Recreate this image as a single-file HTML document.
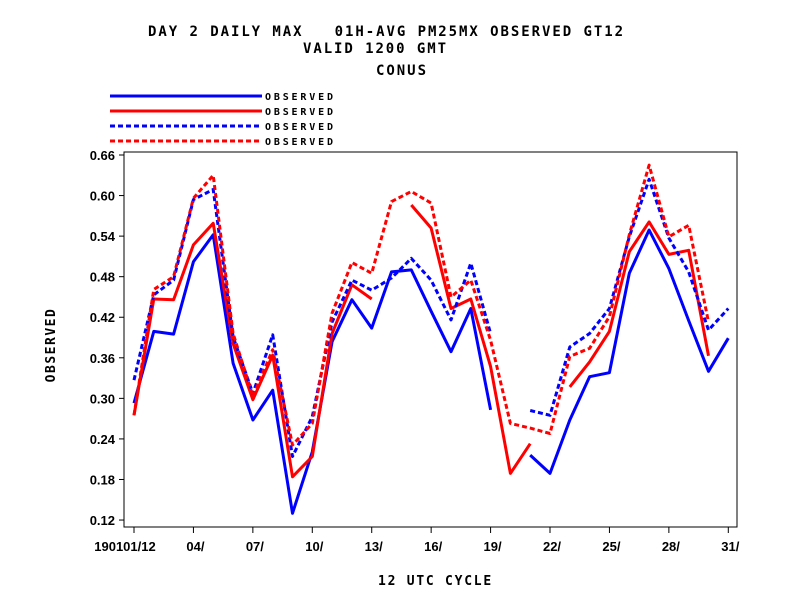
<!DOCTYPE html>
<html><head><meta charset="utf-8"><style>
body{margin:0;background:#fff}
svg{display:block}
text{font-family:"DejaVu Sans Mono","Liberation Mono",monospace;font-weight:bold;fill:#000;white-space:pre}
.tk{font-family:"Liberation Sans",sans-serif;font-weight:bold;letter-spacing:0}
</style></head><body>
<svg id="chart" width="792" height="612">
<text x="148" y="36" font-size="14" letter-spacing="2" textLength="477" lengthAdjust="spacing" xml:space="preserve">DAY 2 DAILY MAX   01H-AVG PM25MX OBSERVED GT12</text>
<text x="303" y="53" font-size="14" letter-spacing="2" textLength="145" lengthAdjust="spacing">VALID 1200 GMT</text>
<text x="376" y="75" font-size="14" letter-spacing="2" textLength="52" lengthAdjust="spacing">CONUS</text>
<g id="legend"></g>
<rect x="124" y="152" width="613" height="375" fill="none" stroke="#000" stroke-width="1"/>
<g id="axes"></g>
<g id="series"></g>
<text x="378" y="585" font-size="13" letter-spacing="1.8" textLength="115" lengthAdjust="spacing">12 UTC CYCLE</text>
<text x="55" y="345" font-size="13" text-anchor="middle" letter-spacing="1.5" transform="rotate(-90 55 345)">OBSERVED</text>
</svg>
<script>
const days=[1,2,3,4,5,6,7,8,9,10,11,12,13,14,15,16,17,18,19,20,21,22,23,24,25,26,27,28,29,30,31];
const blueSolid=[0.293,0.399,0.395,0.502,0.542,0.352,0.268,0.312,0.130,0.221,0.384,0.446,0.404,0.487,0.490,0.429,0.369,0.433,0.283,null,0.216,0.189,0.268,0.332,0.338,0.485,0.549,0.492,0.415,0.340,0.389];
const redSolid=[0.275,0.447,0.446,0.527,0.559,0.381,0.298,0.364,0.184,0.214,0.396,0.468,0.447,null,0.586,0.552,0.433,0.447,0.347,0.189,0.233,null,0.317,0.354,0.399,0.517,0.561,0.513,0.519,0.363,null];
const blueDash=[0.327,0.453,0.475,0.594,0.609,0.391,0.307,0.394,0.214,0.273,0.413,0.475,0.460,0.478,0.507,0.475,0.416,0.500,0.396,null,0.282,0.275,0.376,0.396,0.433,0.539,0.624,0.537,0.487,0.401,0.433];
const redDash=[0.275,0.461,0.480,0.596,0.630,0.396,0.303,0.372,0.231,0.263,0.426,0.501,0.485,0.591,0.606,0.589,0.450,0.475,0.386,0.263,0.256,0.248,0.362,0.374,0.421,0.542,0.645,0.539,0.556,0.413,null];
const yTicks=[0.12,0.18,0.24,0.30,0.36,0.42,0.48,0.54,0.60,0.66];
const xTickDays=[1,4,7,10,13,16,19,22,25,28,31];
const xTickLabels=["190101/12","04/","07/","10/","13/","16/","19/","22/","25/","28/","31/"];
const NS="http://www.w3.org/2000/svg";
const X=d=>134+(d-1)*19.81;
const Y=v=>155+(0.66-v)/0.06*40.56;
function mk(t,a,p){const e=document.createElementNS(NS,t);for(const k in a)e.setAttribute(k,a[k]);p.appendChild(e);return e;}
const axes=document.getElementById('axes');
yTicks.forEach(v=>{
 const l=mk('line',{x1:119,x2:124,y1:Y(v),y2:Y(v),stroke:'#000'},axes);
 
 
 const t=mk('text',{x:115,y:Y(v)+5,'font-size':13,'text-anchor':'end',class:'tk'},axes);
 
 
 t.textContent=v.toFixed(2);
});
xTickDays.forEach((d,i)=>{
 const l=mk('line',{x1:X(d),x2:X(d),y1:527,y2:533,stroke:'#000'},axes);
 
 
 const t=mk('text',{x:i==0?X(d)-9:X(d)+2,y:551,'font-size':13,'text-anchor':'middle',class:'tk'},axes);
 
 
 t.textContent=xTickLabels[i];
});
const defs=[[blueSolid,'#0000ff',null,'blue-solid'],[redSolid,'#ff0000',null,'red-solid'],[blueDash,'#0000ff','5,3','blue-dashed'],[redDash,'#ff0000','5,3','red-dashed']];
const sg=document.getElementById('series'),lg=document.getElementById('legend');
defs.forEach((s,k)=>{
 let d='',pen=false;
 s[0].forEach((v,i)=>{if(v==null){pen=false;return;}d+=(pen?'L':'M')+X(days[i]).toFixed(1)+' '+Y(v).toFixed(1);pen=true;});
 const p=mk('path',{d:d,fill:'none',stroke:s[1],'stroke-width':3,'stroke-linejoin':'round'},sg);
 if(s[2])p.setAttribute('stroke-dasharray',s[2]);
 
 
 const ly=96+k*15;
 const ll=mk('line',{x1:110,x2:262,y1:ly,y2:ly,stroke:s[1],'stroke-width':3},lg);
 if(s[2])ll.setAttribute('stroke-dasharray',s[2]);
 
 
 const lt=mk('text',{x:265,y:ly+4,'font-size':10,textLength:68,lengthAdjust:'spacing'},lg);
 
 
 lt.textContent='OBSERVED';
});
</script>
</body></html>
